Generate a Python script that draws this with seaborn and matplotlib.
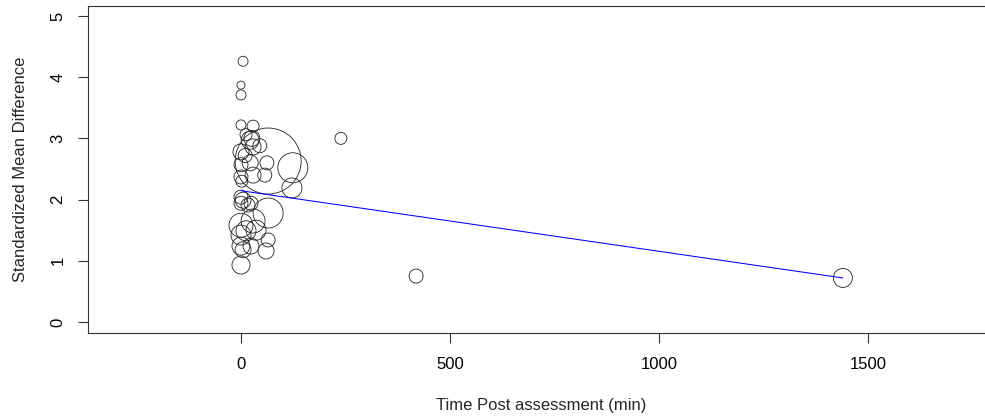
import matplotlib
matplotlib.use("Agg")
import matplotlib.pyplot as plt
import numpy as np
import pandas as pd
import seaborn as sns

# Study-level data: time of post assessment (min), effect size (SMD), study weight
time_min = [5, 0, 0,
            0, 29, 12, 26, 29, 0, 22,
            65,
            0, 22, 62, 124, 0, 29, 57, 122, 10, 45, 2,
            5, 0, 24, 17, 0,
            65,
            0, 29, 36, 0, 12, 65, 0, 5, 60, 24, 0,
            239, 419, 1440]
smd = [4.26, 3.87, 3.71,
       3.22, 3.20, 3.06, 3.00, 2.86, 2.78, 2.97,
       2.63,
       2.57, 2.60, 2.60, 2.52, 2.37, 2.40, 2.40, 2.19, 2.72, 2.88, 2.30,
       1.99, 1.94, 1.94, 1.91, 2.04,
       1.78,
       1.58, 1.65, 1.50, 1.42, 1.49, 1.34, 1.24, 1.18, 1.16, 1.24, 0.93,
       3.00, 0.75, 0.72]
weight = [5, 4, 5,
          5, 6, 6, 8, 8, 8, 9,
          33,
          7, 8, 7, 15, 7, 8, 7, 10, 7, 7, 6,
          8, 7, 7, 7, 7,
          15,
          12, 12, 10, 10, 10, 7, 9, 8, 8, 8, 9,
          6, 7, 9.5]

# Fitted meta-regression coefficients
intercept = 2.145
slope = -0.00099

x_ticks = [0, 500, 1000, 1500]
y_ticks = [0, 1, 2, 3, 4, 5]

df = pd.DataFrame({"time": time_min, "smd": smd, "w": weight})

sns.set_theme(style="white")
plt.rcParams["font.family"] = ["Liberation Sans", "DejaVu Sans"]

fig = plt.figure(figsize=(9.85, 4.19), dpi=100)
W, H = 985, 419
ax = fig.add_axes([88 / W, 1 - 333 / H, (995 - 88) / W, (333 - 6) / H])

# marker area in points^2 from circle radius in pixels
sizes = (np.asarray(df["w"]) * 2 * 0.72) ** 2
sns.scatterplot(data=df, x="time", y="smd", s=sizes, facecolor="none",
                edgecolor="#222222", linewidth=0.6, ax=ax, legend=False)

xs = np.array([min(time_min), max(time_min)])
sns.lineplot(x=xs, y=intercept + slope * xs, color="blue", linewidth=0.75,
             ax=ax, legend=False)

ax.set_xlim(-366, 1804)
ax.set_ylim(-0.18, 5.163)
ax.set_xticks(x_ticks)
ax.set_yticks(y_ticks)
ax.set_xticklabels([str(v) for v in x_ticks])
ax.set_yticklabels([str(v) for v in y_ticks], rotation=90, va="center")

for side in ["left", "bottom", "top", "right"]:
    ax.spines[side].set_color("#333333")
    ax.spines[side].set_linewidth(0.8)
    ax.spines[side].set_visible(True)

ax.tick_params(axis="both", direction="out", length=7.2, width=0.8,
               color="#333333", labelsize=12, labelcolor="black",
               bottom=True, left=True)
ax.tick_params(axis="x", pad=10)
ax.tick_params(axis="y", pad=9)

ax.set_xlabel("Time Post assessment (min)", fontsize=12, labelpad=19)
ax.set_ylabel("Standardized Mean Difference", fontsize=12, labelpad=16)

fig.savefig("out.png", dpi=100)
